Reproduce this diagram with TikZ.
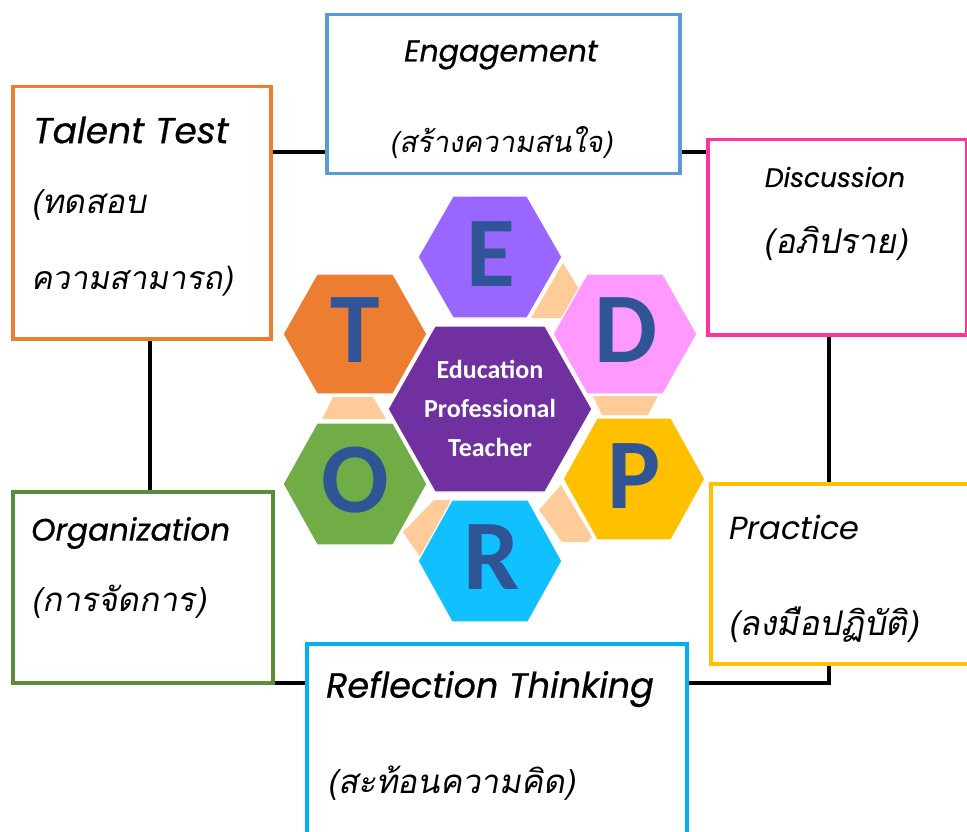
\documentclass[tikz,border=0pt]{standalone}
\usepackage{fontspec}
\newfontfamily\thaiit[Script=Thai,FakeSlant=0.18]{Loma}
\newfontfamily\latit{Poppins}
\newfontfamily\latitmed[FakeBold=0.6]{Poppins}
\newfontfamily\letterfont{Carlito}
\usetikzlibrary{calc}
\definecolor{hexE}{HTML}{9966FF}
\definecolor{hexT}{HTML}{ED7D31}
\definecolor{hexD}{HTML}{FF99FF}
\definecolor{hexO}{HTML}{70AD47}
\definecolor{hexP}{HTML}{FFC000}
\definecolor{hexR}{HTML}{11C1FF}
\definecolor{hexC}{HTML}{7030A0}
\definecolor{lettercol}{HTML}{2F5597}
\definecolor{peach}{HTML}{FFCC99}
\definecolor{bEng}{HTML}{5B9BD5}
\definecolor{bTal}{HTML}{ED7D31}
\definecolor{bDis}{HTML}{FF3399}
\definecolor{bOrg}{HTML}{5B8C3A}
\definecolor{bPra}{HTML}{FFC000}
\definecolor{bRef}{HTML}{00B0F0}
\newcommand\hexa[6]{% cx, cy, hw, hh, ht, color
  \fill[#6, draw=white, line width=1.2pt] (#1-#3,#2) -- (#1-#5,#2-#4) -- (#1+#5,#2-#4) -- (#1+#3,#2) -- (#1+#5,#2+#4) -- (#1-#5,#2+#4) -- cycle;}
\begin{document}
\begin{tikzpicture}[x=1pt,y=-1pt,
  box/.style={draw, fill=white, line width=3.5pt, anchor=north west, inner sep=0pt},
  letter/.style={text=lettercol, font=\letterfont\bfseries\fontsize{100}{100}\selectfont, inner sep=0pt},
  lbl/.style={font=\thaiit\fontsize{#1}{#1}\selectfont, inner sep=0pt},
  lat/.style={font=\latitmed\itshape\fontsize{#1}{#1}\selectfont, inner sep=0pt},
  latlight/.style={font=\latit\itshape\fontsize{#1}{#1}\selectfont, inner sep=0pt},
  peachfill/.style={fill=peach}]
\useasboundingbox (0,0) rectangle (967,832);
% connector loop
\coordinate (c1) at (150,152);
\coordinate (c3) at (829,683);
\draw[line width=4pt] (c1) rectangle (c3);
% boxes
\node[box, draw=bEng, minimum width=353pt, minimum height=159pt] (eng) at (325,13) {};
\node[box, draw=bTal, minimum width=258pt, minimum height=252pt] (tal) at (11,85) {};
\node[box, draw=bDis, minimum width=259pt, minimum height=195pt] (dis) at (706,138) {};
\node[box, draw=bOrg, minimum width=260pt, minimum height=191pt] (org) at (11,490) {};
\node[box, draw=bPra, minimum width=280pt, minimum height=180pt] (pra) at (709,482) {};
\node[box, draw=bRef, minimum width=380pt, minimum height=220pt] (ref) at (305,642) {};
% labels
\node[lat=30] (engA) at (501,55) {Engagement};
\node[lbl=29] (engB) at (501,143) {(สร้างความสนใจ)};
\node[lat=36, anchor=west] (talA) at (33,130) {Talent Test};
\node[lbl=33, anchor=west] (talB) at (31,205) {(ทดสอบ};
\node[lbl=32, anchor=west] (talC) at (31,281) {ความสามารถ)};
\node[lat=26.5] (disA) at (835,177) {Discussion};
\node[lbl=34] (disB) at (836,243) {(อภิปราย)};
\node[lat=31, anchor=west] (orgA) at (31,533) {Organization};
\node[lbl=33, anchor=west] (orgB) at (31,602) {(การจัดการ)};
\node[latlight=32, anchor=west] (praA) at (729,527) {Practice};
\node[lbl=34, anchor=west] (praB) at (728,625) {(ลงมือปฏิบัติ)};
\node[lat=35, anchor=west] (refA) at (326,689) {Reflection Thinking};
\node[lbl=33, anchor=west] (refB) at (327,783) {(สะท้อนความคิด)};
% peach connectors
\fill[peachfill] (563,263) -- (579,289) -- (561,318) -- (531,318) -- cycle;
\fill[peachfill] (333,397) -- (373,397) -- (386,419) -- (322,419) -- cycle;
\fill[peachfill] (593,396) -- (658,396) -- (648,415) -- (602,415) -- cycle;
\fill[peachfill] (434,500) -- (451,500) -- (420,557) -- (403,532) -- cycle;
\fill[peachfill] (539,510) -- (561,485) -- (592,537) -- (588,542) -- (562,542) -- cycle;
% hexagons
\hexa{490}{257}{72}{61}{37}{hexE}
\hexa{355}{334}{72}{60}{38}{hexT}
\hexa{625}{334}{72}{60}{38}{hexD}
\hexa{355}{484}{72}{61}{38}{hexO}
\hexa{634}{479}{71}{61}{37}{hexP}
\hexa{490}{561}{72}{61}{38}{hexR}
\hexa{490}{409}{102}{83}{55}{hexC}
\node[letter] (E) at (491,254) {E};
\node[letter] (T) at (355,330) {T};
\node[letter] (D) at (626,330) {D};
\node[letter] (O) at (355,480) {O};
\node[letter] (P) at (634,476) {P};
\node[letter] (R) at (492,557) {R};
\node[align=center, text=white, font=\letterfont\bfseries\fontsize{26}{39}\selectfont, inner sep=0pt] (ctr) at (490,408) {Education\\Professional\\Teacher};
\end{tikzpicture}
\end{document}
